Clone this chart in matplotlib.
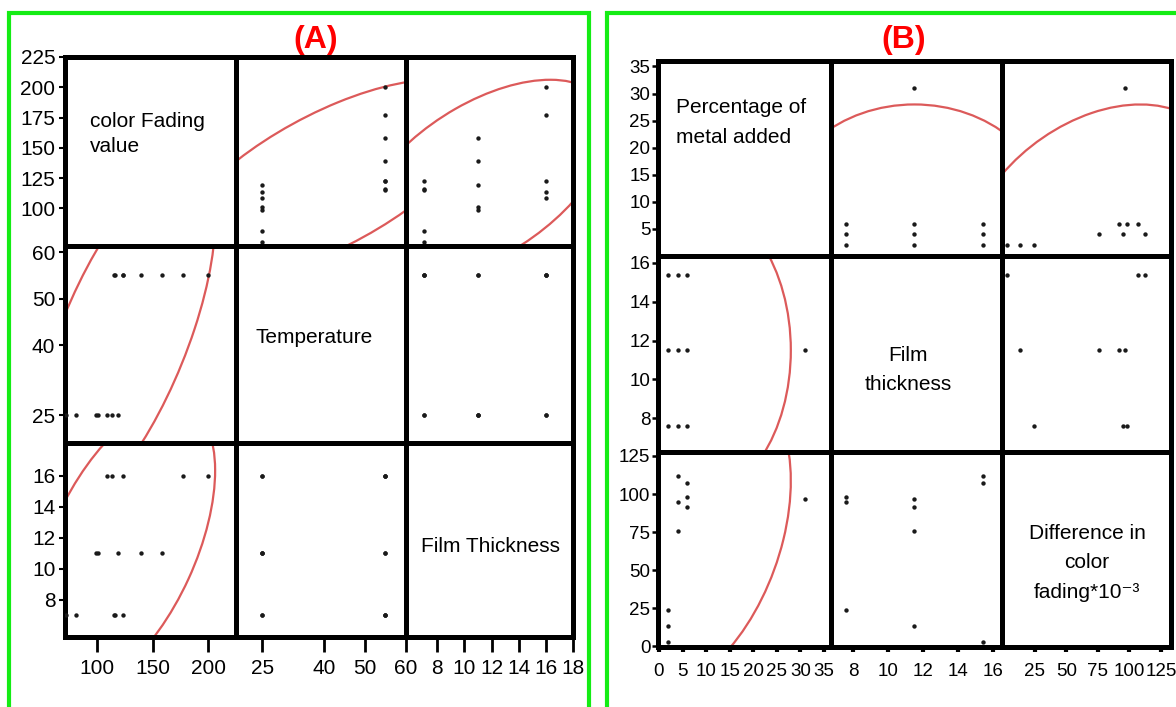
import numpy as np
import matplotlib.pyplot as plt
from matplotlib.patches import Ellipse, Rectangle

# ---- panel A: colour fading value, temperature, film thickness (15 runs)
fade_a = [72, 81, 115, 116, 123, 99, 101, 119, 139, 158, 109, 113.5, 123, 177, 200]
temp_a = [25, 25, 55, 55, 55, 25, 25, 25, 55, 55, 25, 25, 55, 55, 55]
thick_a = [7, 7, 7, 7, 7, 11, 11, 11, 11, 11, 16, 16, 16, 16, 16]
names_a = ['color Fading\nvalue', 'Temperature', 'Film Thickness']
xticks_a = [[100, 150, 200], [25, 40, 50, 60], [8, 10, 12, 14, 16, 18]]
yticks_a = [[100, 125, 150, 175, 200, 225], [25, 40, 50, 60], [8, 10, 12, 14, 16]]

# ---- panel B: percentage of metal, film thickness, difference in fading (10 runs)
metal_b = [2, 2, 2, 4, 4, 4, 6, 6, 6, 31]
thick_b = [7.6, 11.5, 15.4, 15.4, 7.6, 11.5, 15.4, 7.6, 11.5, 11.5]
diff_b = [24, 13, 3, 112, 95, 76, 107, 98, 91.5, 96.5]
names_b = ['Percentage of\nmetal added', 'Film\nthickness', 'Difference in\ncolor\nfading*10\u207b\u00b3']
xticks_b = [[0, 5, 10, 15, 20, 25, 30, 35], [8, 10, 12, 14, 16], [25, 50, 75, 100, 125]]
yticks_b = [[5, 10, 15, 20, 25, 30, 35], [8, 10, 12, 14, 16], [0, 25, 50, 75, 100, 125]]

W, H = 1176, 707
RED = '#dc5a5a'
GREEN = '#14ec14'

fig = plt.figure(figsize=(W / 100, H / 100), dpi=100)


def box(x0, x1, y0, y1):
    return [x0 / W, 1 - y1 / H, (x1 - x0) / W, (y1 - y0) / H]


def density_ellipse(ax, x, y, chi2=5.991):
    cov = np.cov(x, y)
    vals, vecs = np.linalg.eigh(cov)
    order = vals.argsort()[::-1]
    vals, vecs = vals[order], vecs[:, order]
    angle = np.degrees(np.arctan2(vecs[1, 0], vecs[0, 0]))
    w, h = 2 * np.sqrt(chi2 * vals)
    ax.add_patch(Ellipse((np.mean(x), np.mean(y)), w, h, angle=angle,
                         fill=False, ec=RED, lw=1.6, zorder=1))


def panel(data, names, xticks, yticks, xlims, ylims, xs, ys, texts, font, fsize, style):
    n = len(data)
    for i in range(n):
        for j in range(n):
            ax = fig.add_axes(box(xs[j], xs[j + 1], ys[i], ys[i + 1]))
            for s in ax.spines.values():
                s.set_linewidth(3.6)
            if i == j:
                tx, ty, ha, ls = texts[i]
                ax.text(tx, ty, names[i], transform=ax.transAxes, ha=ha, va='center',
                        fontsize=style['label'], family=['Liberation Sans', 'DejaVu Sans'],
                        multialignment=ha, linespacing=ls)
            else:
                ax.scatter(data[j], data[i], s=10, c='#1a1a1a', linewidths=0, zorder=3)
                density_ellipse(ax, data[j], data[i])
            ax.set_xlim(xlims[j])
            ax.set_ylim(ylims[i])
            ax.set_xticks(xticks[j])
            ax.set_yticks(yticks[i])
            ax.tick_params(left=(j == 0), labelleft=(j == 0),
                           bottom=(i == n - 1), labelbottom=(i == n - 1))
            ax.tick_params(axis='x', length=style['xlen'], width=style['xw'], pad=style['xpad'])
            ax.tick_params(axis='y', length=style['ylen'], width=style['yw'], pad=style['ypad'])
            for lab in ax.get_xticklabels() + ax.get_yticklabels():
                lab.set_family(font)
                lab.set_fontsize(fsize)


panel([fade_a, temp_a, thick_a], names_a, xticks_a, yticks_a,
      [(71, 225), (18.6, 60), (5.7, 18)], [(69, 225), (19, 61.3), (5.6, 18.1)],
      [65, 236, 406, 573], [57, 246, 443, 637],
      [(0.146, 0.595, 'left', 1.4), (0.46, 0.533, 'center', 1.2), (0.503, 0.464, 'center', 1.2)],
      ['Liberation Sans', 'DejaVu Sans'], 15,
      dict(label=15, xlen=11, xw=2, xpad=5, ylen=4, yw=1.5, ypad=3))

panel([metal_b, thick_b, diff_b], names_b, xticks_b, yticks_b,
      [(-0.2, 36.5), (6.74, 16.5), (-1, 133)], [(0, 36), (6.26, 16.36), (-0.5, 127.6)],
      [658, 831, 1002, 1171], [61, 256, 452, 647],
      [(0.104, 0.685, 'left', 1.75), (0.45, 0.42, 'center', 1.65), (0.503, 0.431, 'center', 1.7)],
      ['Liberation Sans Narrow', 'Liberation Sans', 'DejaVu Sans'], 13.5,
      dict(label=15, xlen=3.5, xw=3, xpad=8, ylen=4, yw=1.8, ypad=1.5))

# green frames and panel letters
fig.add_artist(Rectangle((9 / W, -0.05), 580 / W, 1.05 - 13 / H, transform=fig.transFigure,
                         fill=False, ec=GREEN, lw=3))
fig.add_artist(Rectangle((607 / W, -0.05), 600 / W, 1.05 - 13 / H, transform=fig.transFigure,
                         fill=False, ec=GREEN, lw=3))
fig.text(316 / W, 1 - 40 / H, '(A)', color='red', weight='bold', fontsize=23,
         ha='center', va='center', family='Liberation Sans')
fig.text(904 / W, 1 - 40 / H, '(B)', color='red', weight='bold', fontsize=23,
         ha='center', va='center', family='Liberation Sans')

fig.savefig('out.png', dpi=100)
